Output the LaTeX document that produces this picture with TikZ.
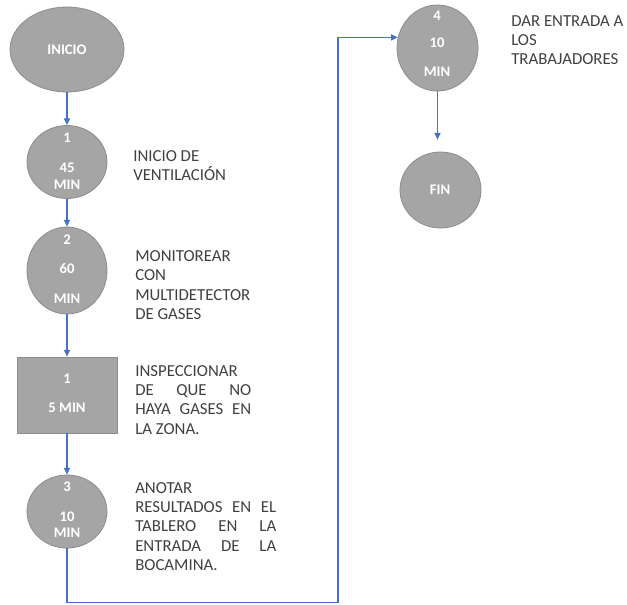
\documentclass[tikz,border=0pt]{standalone}
\usepackage{fontspec}
\setmainfont{Carlito}
\usetikzlibrary{arrows.meta,shapes.geometric}
\definecolor{nodefill}{RGB}{165,165,165}
\definecolor{nodeline}{RGB}{140,140,140}
\definecolor{linkblue}{RGB}{68,114,196}
\definecolor{sidetext}{RGB}{64,64,64}
\newcommand{\blk}[1]{\vtop{\baselineskip=14.6pt\lineskiplimit=-20pt\halign{##\hfil\cr#1\crcr}}}
\tikzset{
  ell/.style={ellipse, draw=nodeline, fill=nodefill, line width=0.6pt, inner sep=0pt},
  rbox/.style={rectangle, draw=nodeline, fill=nodefill, line width=0.6pt, inner sep=0pt},
  intext/.style={text=white, font=\fontsize{11}{13}\selectfont\bfseries, inner sep=0pt, anchor=center},
  side/.style={text=sidetext, font=\fontsize{12.6}{14.6}\selectfont, inner sep=0pt, anchor=base west},
  link/.style={draw=linkblue, line width=0.8pt},
  arr/.style={link, -{Triangle[length=5pt,width=4.5pt]}}
}
\begin{document}
\begin{tikzpicture}[x=0.75pt,y=-0.75pt]
\useasboundingbox (0,0) rectangle (627,604);
% nodes
\node[ell, minimum width=85.5pt, minimum height=63.75pt] (inicio) at (67,49.5) {};
\node[ell, minimum width=60pt, minimum height=54.75pt] (c1) at (67,162) {};
\node[ell, minimum width=60pt, minimum height=65.25pt] (c2) at (67,270.5) {};
\node[rbox, minimum width=75pt, minimum height=57pt] (r1) at (67,395) {};
\node[ell, minimum width=60pt, minimum height=54.75pt] (c3) at (67,511.5) {};
\node[ell, minimum width=60.75pt, minimum height=64.5pt] (c4) at (437.5,48) {};
\node[ell, minimum width=60.75pt, minimum height=57pt] (fin) at (440.5,190) {};
% inner texts
\node[intext] (tinicio) at (67,50) {INICIO};
\node[intext] (c1a) at (67,138) {1};
\node[intext] (c1b) at (67,168) {45};
\node[intext] (c1c) at (67,185) {MIN};
\node[intext] (c2a) at (67,240) {2};
\node[intext] (c2b) at (67,269) {60};
\node[intext] (c2c) at (67,299) {MIN};
\node[intext] (r1a) at (67,379) {1};
\node[intext] (r1b) at (67,408) {5 MIN};
\node[intext] (c3a) at (67,487) {3};
\node[intext] (c3b) at (67,517) {10};
\node[intext] (c3c) at (67,533) {MIN};
\node[intext] (c4a) at (437,16) {4};
\node[intext] (c4b) at (437,43) {10};
\node[intext] (c4c) at (437,72) {MIN};
\node[intext] (tfin) at (440,190) {FIN};
% side texts
\node[side] (s1) at (133,161) {\blk{INICIO DE\cr VENTILACIÓN}};
\node[side] (s2) at (135,261.5) {\blk{MONITOREAR\cr CON\cr MULTIDETECTOR\cr DE GASES}};
\node[side] (s3) at (135,376) {\blk{INSPECCIONAR\cr \hbox to 87pt{DE\hfill QUE\hfill NO}\cr \hbox to 87pt{HAYA\hfill GASES\hfill EN}\cr LA ZONA.}};
\node[side] (s4) at (135,493) {\blk{ANOTAR\cr \hbox to 105.75pt{RESULTADOS\hfill EN\hfill EL}\cr \hbox to 105.75pt{TABLERO\hfill EN\hfill LA}\cr \hbox to 105.75pt{ENTRADA\hfill DE\hfill LA}\cr BOCAMINA.}};
\node[side] (s5) at (511,26) {\blk{DAR ENTRADA A\cr LOS\cr TRABAJADORES}};
% connectors
\draw[arr] (inicio.south) -- (c1.north);
\draw[arr] (c1.south) -- (c2.north);
\draw[arr] (c2.south) -- (r1.north);
\draw[arr] (r1.south) -- (c3.north);
\draw[arr, shorten >=9pt] (c4.south) -- (c4.south |- fin.north);
\coordinate (b2) at (338,602.5);
\draw[arr] (c3.south) |- (b2) |- (c4.165);
\end{tikzpicture}
\end{document}
